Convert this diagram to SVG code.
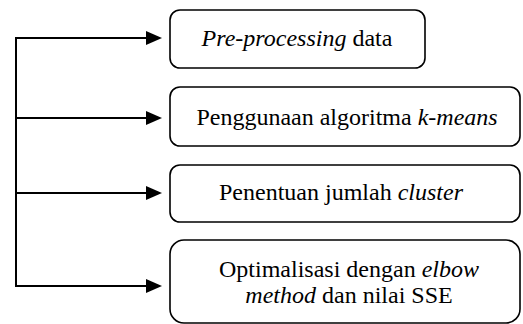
<svg xmlns="http://www.w3.org/2000/svg" width="523" height="324" viewBox="0 0 523 324">
<style>
.box{fill:#fff;stroke:#000;stroke-width:1.6}
.t{font-family:"Liberation Serif","Times New Roman",serif;font-size:24px;fill:#000;text-anchor:middle}
.i{font-style:italic}
.c{fill:none;stroke:#000;stroke-width:2}
</style>
<g id="connectors">
<path class="c" d="M16,38 V287"/>
<line class="c" x1="15" y1="38" x2="148" y2="38"/>
<line class="c" x1="16" y1="118" x2="148" y2="118"/>
<line class="c" x1="16" y1="193" x2="148" y2="193"/>
<line class="c" x1="15" y1="286" x2="148" y2="286"/>
<path d="M146,31 L162,38 L146,45 Z"/>
<path d="M146,111 L162,118 L146,125 Z"/>
<path d="M146,186 L162,193 L146,200 Z"/>
<path d="M146,279 L162,286 L146,293 Z"/>
</g>
<g id="n1">
<rect class="box" x="170" y="10" width="255" height="58" rx="10"/>
<text class="t" x="297" y="46"><tspan class="i">Pre-processing</tspan> data</text>
</g>
<g id="n2">
<rect class="box" x="170" y="87" width="350" height="59" rx="10"/>
<text class="t" x="347" y="125">Penggunaan algoritma <tspan class="i">k-means</tspan></text>
</g>
<g id="n3">
<rect class="box" x="170" y="165" width="350" height="57" rx="10"/>
<text class="t" x="341" y="200">Penentuan jumlah <tspan class="i">cluster</tspan></text>
</g>
<g id="n4">
<rect class="box" x="170" y="240" width="350" height="83" rx="14"/>
<text class="t" x="349" y="277">Optimalisasi dengan <tspan class="i">elbow</tspan></text>
<text class="t" x="349" y="303"><tspan class="i">method</tspan> dan nilai SSE</text>
</g>
</svg>
